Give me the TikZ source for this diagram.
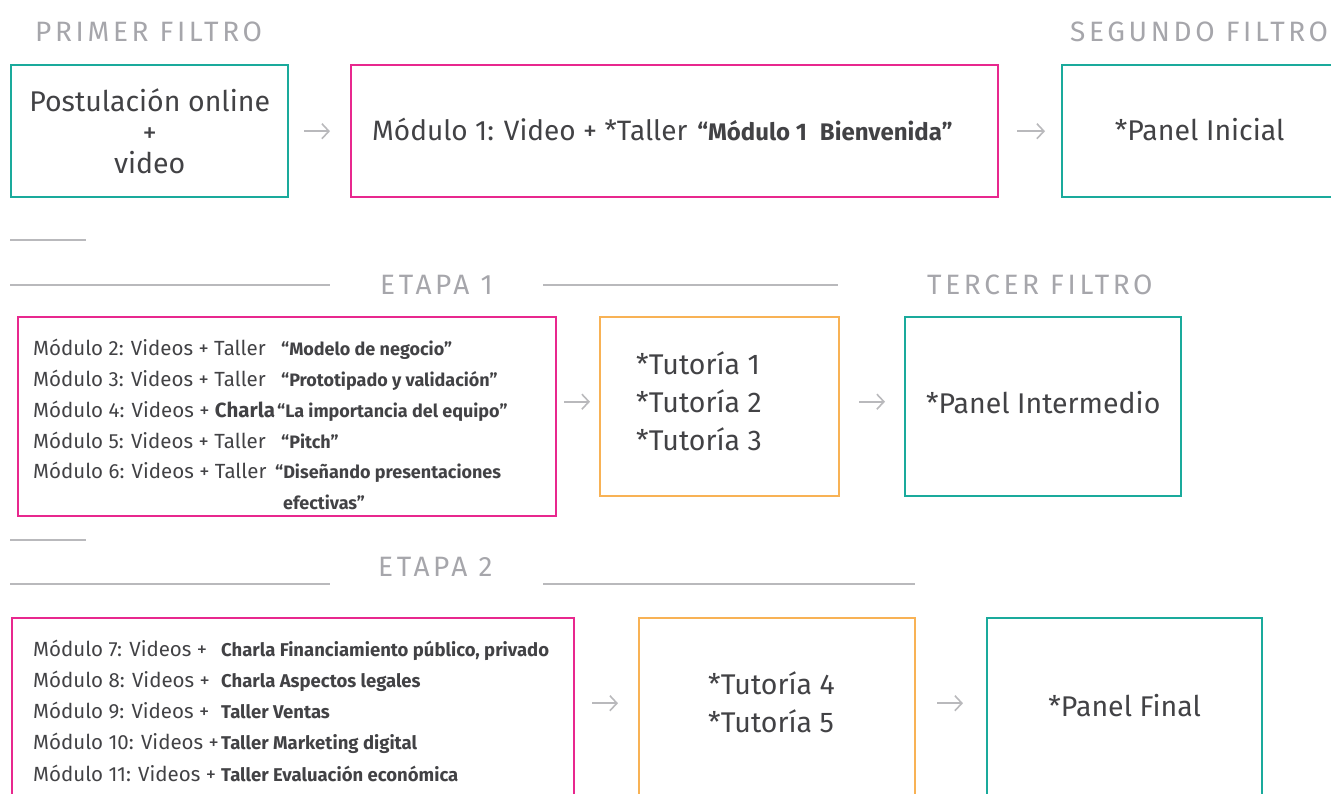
\documentclass[tikz,border=0pt]{standalone}
\usepackage{fontspec}
\setmainfont{Fira Sans}
\newfontfamily\hdrfont{Fira Sans}[LetterSpace=13]
\usetikzlibrary{positioning,calc,arrows.meta}

\definecolor{tealc}{HTML}{1AAA9C}
\definecolor{magc}{HTML}{E8288E}
\definecolor{orac}{HTML}{F8B255}
\definecolor{rulec}{HTML}{B9B9BC}
\definecolor{hdrc}{HTML}{A6A6AB}
\definecolor{txtc}{HTML}{424245}

\newcommand\modlead[2][248pt]{\makebox[#1][l]{#2}}
\newcommand\modqt[2][18]{{\bfseries\fontsize{#1}{31}\selectfont #2}}

\tikzset{
  box/.style={draw, line width=2.4pt, anchor=north west, inner sep=0pt},
  tealbox/.style={box, draw=tealc},
  magbox/.style={box, draw=magc},
  orabox/.style={box, draw=orac},
  hdr/.style={font=\hdrfont\fontsize{28}{30}\selectfont, text=hdrc, inner sep=0pt, anchor=west},
  big/.style={font=\fontsize{28.5}{31}\selectfont, text=txtc, align=center},
  lst/.style={font=\fontsize{20.5}{31}\selectfont, text=txtc, inner sep=0pt, anchor=base west},
  grayrule/.style={draw=rulec, line width=2pt},
  flow/.style={draw=rulec, line width=1.6pt, -{Straight Barb[length=7pt,width=15pt]}},
}

\begin{document}
\begin{tikzpicture}[x=1pt, y=-1pt]
    \useasboundingbox (0,0) rectangle (1331,793);
    \clip (0,0) rectangle (1331,793);

    % titles
    \node[hdr] (primer) at (35,32) {PRIMER FILTRO};
    \node[hdr] (segundo) at (1070,32) {SEGUNDO FILTRO};
    \node[hdr] (etapa1) at (380,285) {ETAPA 1};
    \node[hdr] (tercer) at (927,285) {TERCER FILTRO};
    \node[hdr] (etapa2) at (378,567) {ETAPA 2};

    \draw[grayrule] (10,240) -- (86,240);
    \draw[grayrule] (10,285) -- (330,285);
    \draw[grayrule] (543,285) -- (838,285);
    \draw[grayrule] (10,540) -- (86,540);
    \draw[grayrule] (10,584) -- (330,584);
    \draw[grayrule] (543,584) -- (915,584);

    % first filter
    \node[tealbox, big, minimum width=277pt, minimum height=132pt] (postul) at (10,64)
    {Postulación online\\+\\video};
    \node[magbox, minimum width=647pt, minimum height=132pt] (mod1box) at (350,64) {};
    \node[lst, font=\fontsize{28}{31}\selectfont] (mod1) at (372,140)
    {Módulo 1: Video + *Taller\hspace{10pt}{\bfseries\fontsize{24}{28}\selectfont “Módulo 1\hspace{13pt}Bienvenida”}};
    \node[tealbox, big, minimum width=275pt, minimum height=132pt, text depth=4pt] (panel1) at (1061,64)
    {*Panel Inicial};

    \draw[flow, shorten <=15pt, shorten >=20pt] (postul.east) -- (mod1box.west);
    \draw[flow, shorten <=18pt, shorten >=16pt] (mod1box.east) -- (panel1.west);

    % etapa 1
    \node[magbox, minimum width=538pt, minimum height=199pt] (e1box) at (17,316) {};
    \foreach \i/\y/\txt in {
        2/355/{\modlead{Módulo 2: Videos + Taller}\modqt{“Modelo de negocio”}},
        3/386/{\modlead{Módulo 3: Videos + Taller}\modqt{“Prototipado y validación”}},
        4/417/{\modlead[244pt]{Módulo 4: Videos + \textbf{Charla}}\modqt{“La importancia del equipo”}},
        5/448/{\modlead{Módulo 5: Videos + Taller}\modqt{“Pitch”}},
        6/478/{\modlead[242pt]{Módulo 6: Videos + Taller}\modqt{“Diseñando presentaciones}}}
        \node[lst] (mod\i) at (33,\y) {\txt};
    \node[lst] (mod6b) at (283,509) {\modqt{efectivas”}};

    \node[orabox, minimum width=239pt, minimum height=179pt] (tut1box) at (599,316) {};
    \node[big, align=left, anchor=west, inner sep=0pt, font=\fontsize{28.5}{38}\selectfont]
    (tut1) at (636,401) {*Tutoría 1\\*Tutoría 2\\*Tutoría 3};
    \node[tealbox, big, minimum width=276pt, minimum height=179pt, text depth=8pt] (panel2) at (904,316)
    {*Panel Intermedio};

    \draw[flow, shorten <=7pt, shorten >=9pt] ($(e1box.east |- tut1box.west)+(0,-5)$) -- ($(tut1box.west)+(0,-5)$);
    \draw[flow, shorten <=19pt, shorten >=19pt] ($(tut1box.east)+(0,-5)$) -- ($(panel2.west)+(0,-5)$);

    % etapa 2
    \node[magbox, minimum width=562pt, minimum height=178pt] (e2box) at (11,617) {};
    \foreach \i/\y/\txt in {
        7/656/{\modlead[188pt]{Módulo 7: Videos +}\modqt[18.5]{Charla Financiamiento público, privado}},
        8/687/{\modlead[188pt]{Módulo 8: Videos +}\modqt[18.5]{Charla Aspectos legales}},
        9/718/{\modlead[188pt]{Módulo 9: Videos +}\modqt[18.5]{Taller Ventas}},
        10/749/{\modlead[188pt]{Módulo 10: Videos +}\modqt[18.5]{Taller Marketing digital}},
        11/781/{\modlead[188pt]{Módulo 11: Videos +}\modqt[18.5]{Taller Evaluación económica}}}
        \node[lst] (mod\i) at (33,\y) {\txt};

    \node[orabox, minimum width=276pt, minimum height=178pt] (tut2box) at (638,617) {};
    \node[big, align=left, anchor=west, inner sep=0pt, font=\fontsize{28.5}{38}\selectfont]
    (tut2) at (708,702) {*Tutoría 4\\*Tutoría 5};
    \node[tealbox, big, minimum width=275pt, minimum height=178pt, text depth=4pt] (panel3) at (986,617)
    {*Panel Final};

    \draw[flow, shorten <=17pt, shorten >=20pt] ($(e2box.east)+(0,-4)$) -- ($(tut2box.west)+(0,-4)$);
    \draw[flow, shorten <=21pt, shorten >=23pt] ($(tut2box.east)+(0,-4)$) -- ($(panel3.west)+(0,-4)$);
\end{tikzpicture}
\end{document}
